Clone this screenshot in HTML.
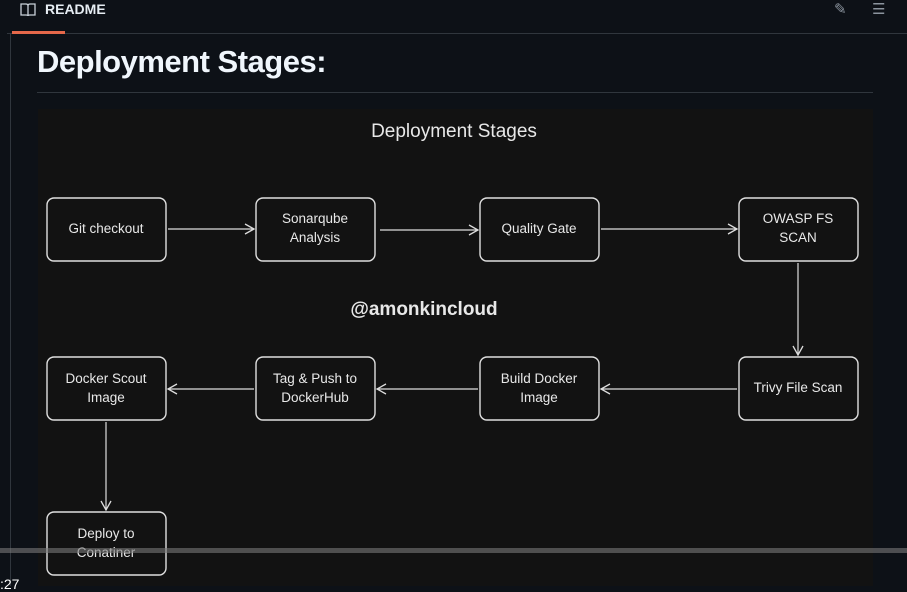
<!DOCTYPE html>
<html><head><style>
body{margin:0;width:907px;height:586px;background:#0d1117;overflow:hidden;position:relative;font-family:"Liberation Sans",sans-serif;}
.t{position:absolute;}
</style></head><body>
<div class="t" style="left:7px;top:33px;width:900px;height:1px;background:#30363d"></div>
<div class="t" style="left:12px;top:31px;width:53px;height:3px;background:#e5684a"></div>
<div class="t" style="left:10px;top:34px;width:1px;height:552px;background:#30363d"></div>
<svg class="t" style="left:20px;top:2px" width="18" height="16"><path d="M1,2 h5 q2,0 2,2 v10 q0,-1 -2,-1 h-5z M15,2 h-5 q-2,0 -2,2 v10 q0,-1 2,-1 h5z" fill="none" stroke="#c9d1d9" stroke-width="1.3"/></svg>
<div class="t" style="left:45px;top:1px;font-size:14px;font-weight:bold;color:#e6edf3">README</div>
<div class="t" style="left:834px;top:0px;font-size:15px;color:#8b949e">✎</div>
<div class="t" style="left:872px;top:0px;font-size:15px;color:#8b949e">☰</div>
<div class="t" style="left:37px;top:44px;font-size:31px;font-weight:bold;color:#f0f6fc;letter-spacing:-0.5px">Deployment Stages:</div>
<div class="t" style="left:37px;top:92px;width:836px;height:1px;background:#30363d"></div>
<div class="t" style="left:38px;top:109px;width:835px;height:477px;background:#121212"></div>
<svg class="t" style="left:0;top:0" width="907" height="586">
<defs><marker id="a" markerWidth="12" markerHeight="12" refX="10" refY="6" orient="auto" markerUnits="userSpaceOnUse"><path d="M1,1 L10,6 L1,11" fill="none" stroke="#ddd" stroke-width="1.3"/></marker></defs>
<g fill="none" stroke="#e0e0e0" stroke-width="1.4">
<rect x="47" y="198" width="119" height="63" rx="7"/>
<rect x="256" y="198" width="119" height="63" rx="7"/>
<rect x="480" y="198" width="119" height="63" rx="7"/>
<rect x="739" y="198" width="119" height="63" rx="7"/>
<rect x="47" y="357" width="119" height="63" rx="7"/>
<rect x="256" y="357" width="119" height="63" rx="7"/>
<rect x="480" y="357" width="119" height="63" rx="7"/>
<rect x="739" y="357" width="119" height="63" rx="7"/>
<rect x="47" y="512" width="119" height="63" rx="7"/>
</g>
<g stroke="#ddd" stroke-width="1.2" marker-end="url(#a)">
<line x1="168" y1="229" x2="254" y2="229"/>
<line x1="380" y1="230" x2="478" y2="230"/>
<line x1="601" y1="229" x2="737" y2="229"/>
<line x1="798" y1="263" x2="798" y2="355"/>
<line x1="737" y1="389" x2="601" y2="389"/>
<line x1="478" y1="389" x2="377" y2="389"/>
<line x1="254" y1="389" x2="168" y2="389"/>
<line x1="106" y1="422" x2="106" y2="510"/>
</g>
<g fill="#e8e8e8" font-family="Liberation Sans,sans-serif" font-size="13.5" text-anchor="middle">
<text x="454" y="137" font-size="19">Deployment Stages</text>
<text x="106" y="233">Git checkout</text>
<text x="315" y="223">Sonarqube</text><text x="315" y="242">Analysis</text>
<text x="539" y="233">Quality Gate</text>
<text x="798" y="223">OWASP FS</text><text x="798" y="242">SCAN</text>
<text x="106" y="383">Docker Scout</text><text x="106" y="402">Image</text>
<text x="315" y="383">Tag &amp; Push to</text><text x="315" y="402">DockerHub</text>
<text x="539" y="383">Build Docker</text><text x="539" y="402">Image</text>
<text x="798" y="392">Trivy File Scan</text>
<text x="106" y="538">Deploy to</text><text x="106" y="557">Conatiner</text>
<text x="424" y="315" font-size="19" font-weight="bold">@amonkincloud</text>
</g>
</svg>
<div class="t" style="left:0;top:548px;width:907px;height:5px;background:rgba(120,120,120,0.6)"></div>
<div class="t" style="left:0;top:576px;font-size:14px;color:#fff">:27</div>
</body></html>
